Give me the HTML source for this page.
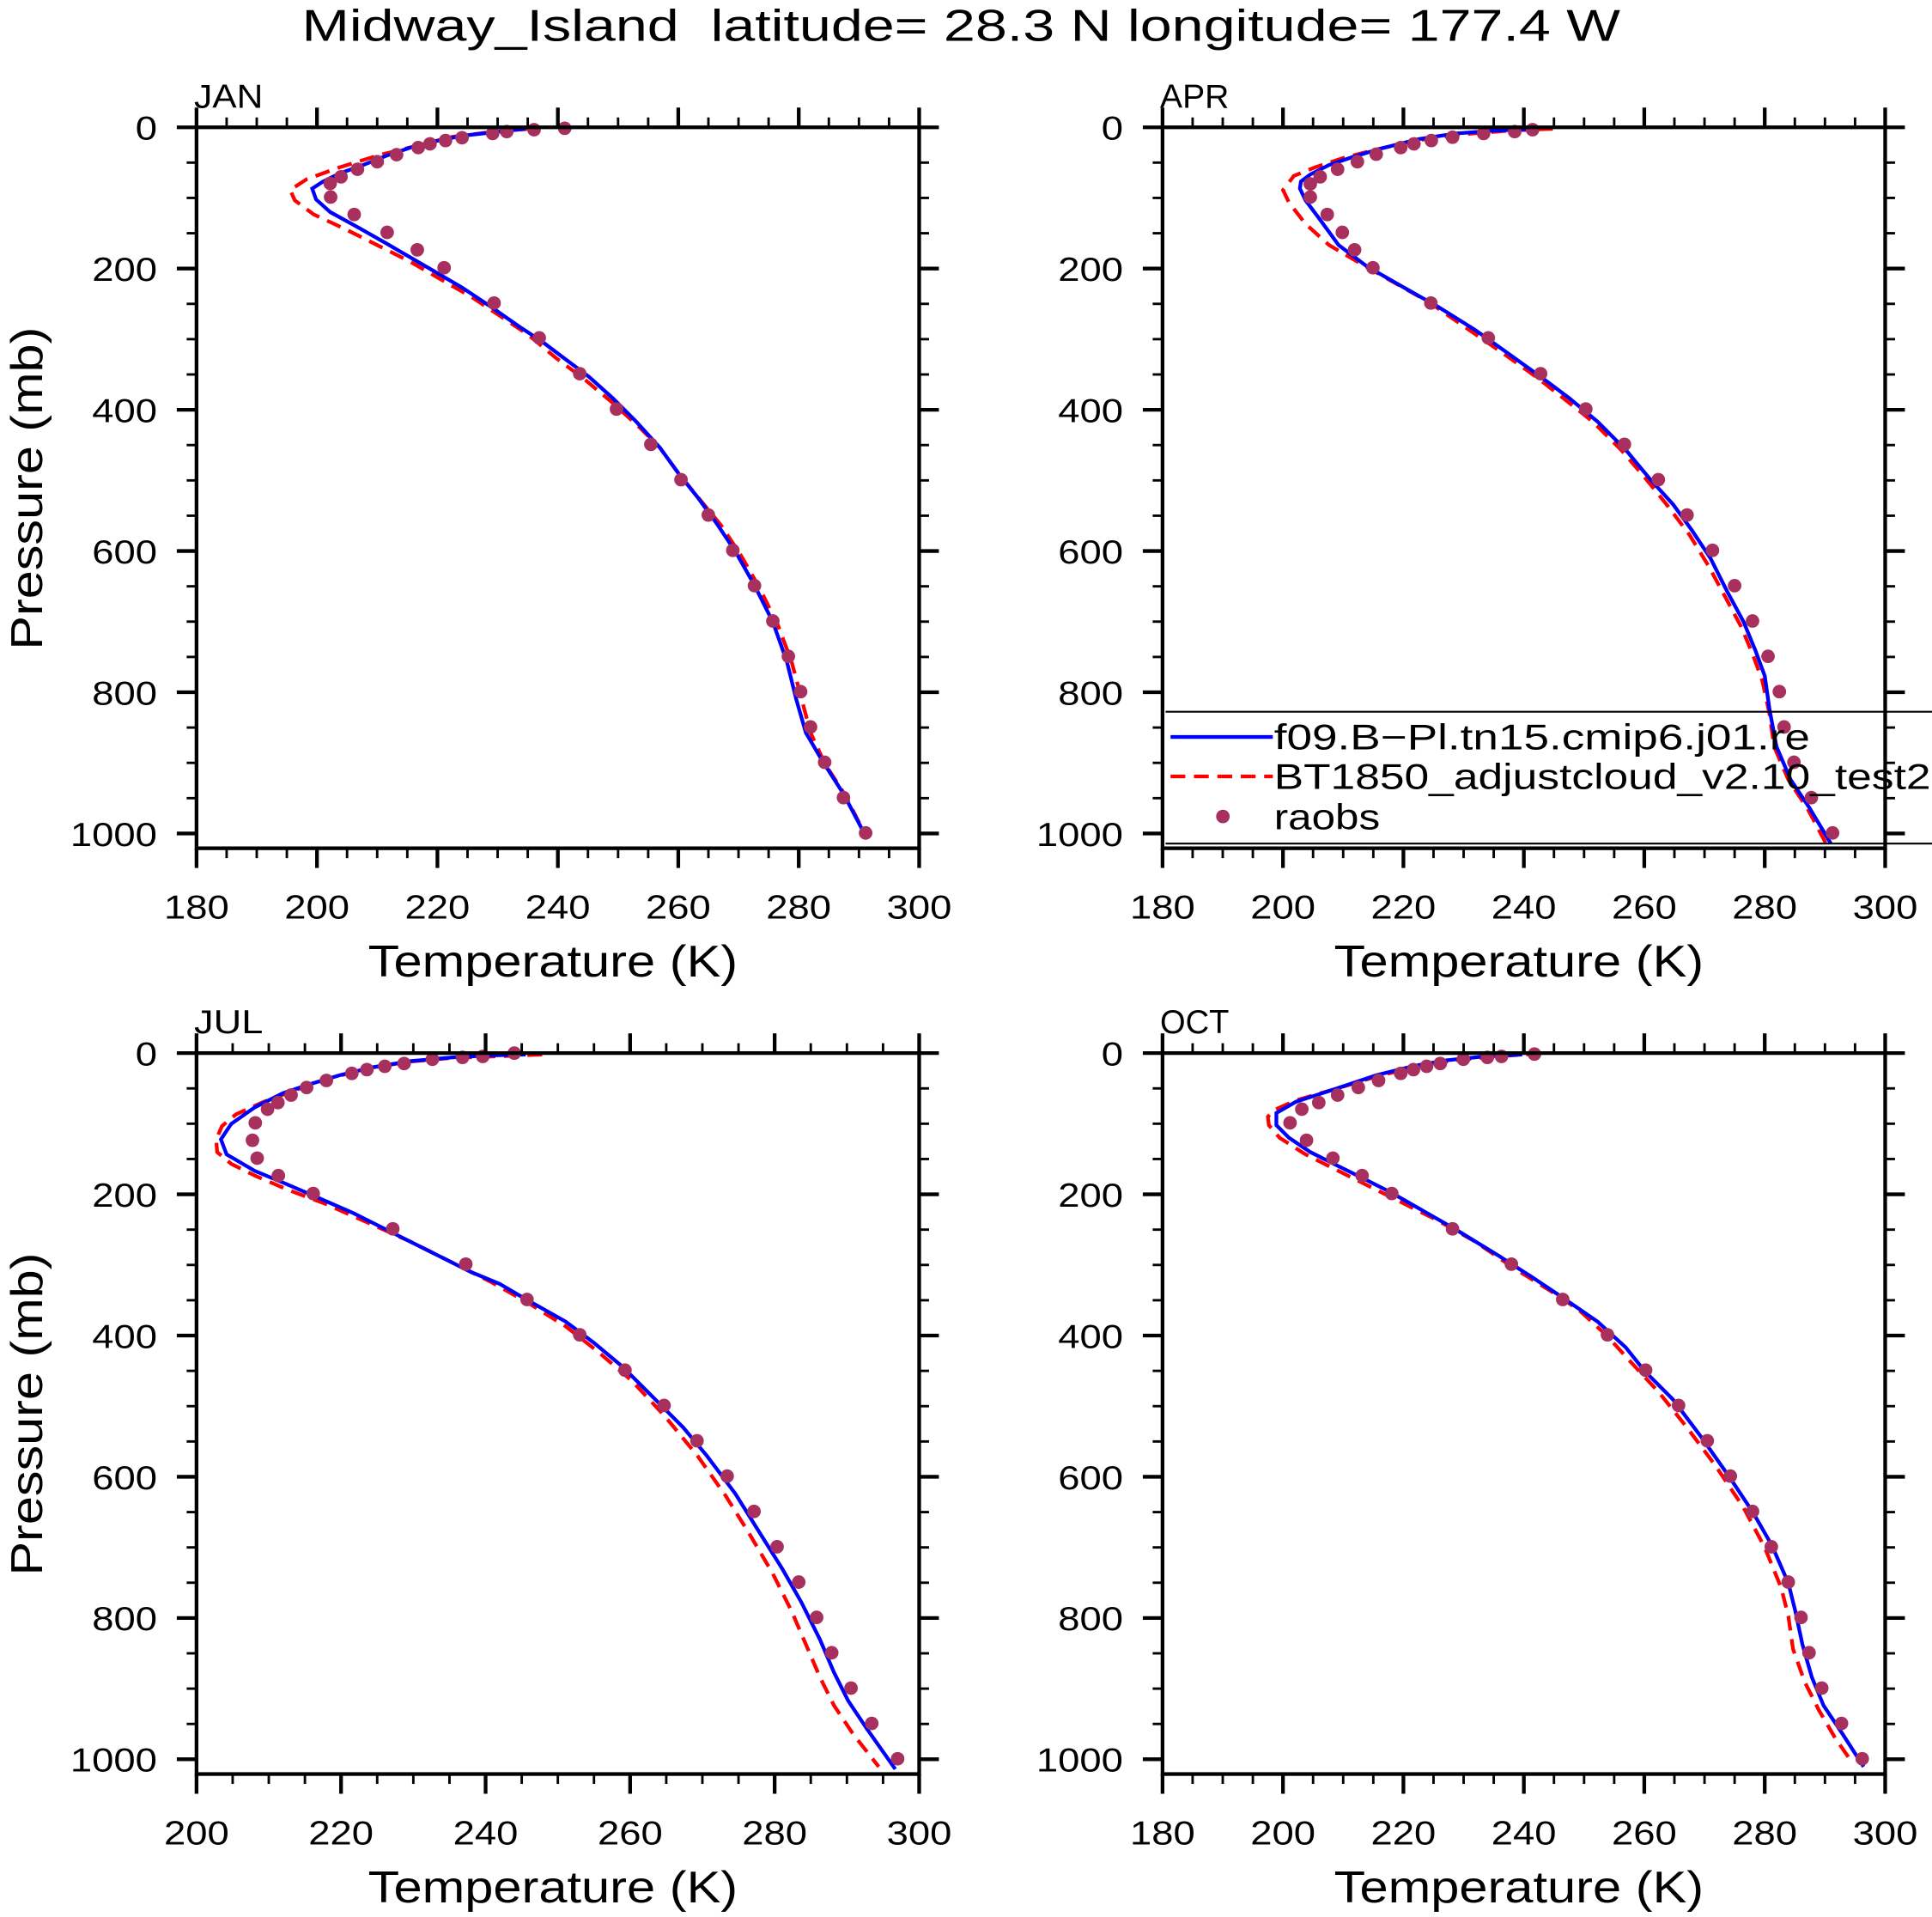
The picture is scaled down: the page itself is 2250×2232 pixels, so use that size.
<!DOCTYPE html>
<html><head><meta charset="utf-8"><style>
html,body{margin:0;padding:0;background:#fff;}
svg{display:block;}
text{font-family:"Liberation Sans",sans-serif;fill:#000;}
</style></head><body>
<svg id="s" width="2250" height="2232" viewBox="0 0 1568 1555.5" preserveAspectRatio="none" xmlns="http://www.w3.org/2000/svg">
<rect width="1568" height="1556" fill="#fff"/>
<text x="245" y="33" font-size="36" textLength="1070" lengthAdjust="spacingAndGlyphs" xml:space="preserve">Midway_Island  latitude= 28.3 N longitude= 177.4 W</text>
<g id="g"></g>
</svg>
<script>
const NS="http://www.w3.org/2000/svg";
const g=document.getElementById('g');
function el(t,a,txt){const e=document.createElementNS(NS,t);for(const k in a)e.setAttribute(k,a[k]);if(txt!==undefined)e.textContent=txt;g.appendChild(e);return e;}
const Z=2.6164;
const panels=[
 {name:"JAN",x0:159.5,x1:746,top:103.3,t0:180,ox:153.3,oy:97.6},
 {name:"APR",x0:943.5,x1:1530,top:103.3,t0:180,ox:937.3,oy:97.6},
 {name:"JUL",x0:159.5,x1:746,top:854.5,t0:200,ox:153.3,oy:848.8},
 {name:"OCT",x0:943.5,x1:1530,top:854.5,t0:180,ox:937.3,oy:848.8}];
const data={
JAN:{b:[[715,18],[650,25],[580,33],[520,45],[470,58],[420,75],[370,95],[320,113],[285,130],[262,145],[270,168],[300,195],[360,228],[420,262],[480,297],[520,320],[580,355],[640,395],[700,437],[750,470],[790,500],[850,545],[900,590],[950,640],[1000,695],[1040,750],[1080,800],[1120,855],[1160,915],[1200,985],[1240,1065],[1270,1150],[1290,1230],[1310,1300],[1345,1360],[1390,1430],[1440,1525]],
r:[[735,17],[650,24],[560,35],[480,55],[400,75],[320,100],[250,125],[215,148],[225,170],[265,200],[330,230],[400,265],[470,300],[530,335],[600,375],[660,415],[720,455],[780,505],[840,550],[900,600],[960,655],[1000,695],[1040,750],[1085,805],[1130,860],[1170,920],[1210,990],[1250,1070],[1280,1150],[1300,1225],[1320,1300],[1350,1365],[1395,1435],[1440,1525]],
d:[[798,17],[733,20],[675,24],[645,28],[580,37],[545,43],[512,50],[487,58],[441,73],[400,88],[358,104],[323,120],[300,134],[301,163],[351,200],[421,238],[485,275],[542,313],[648,388],[744,462],[830,538],[908,613],[981,688],[1045,763],[1103,838],[1155,913],[1201,988],[1240,1063],[1273,1138],[1299,1213],[1320,1288],[1350,1363],[1390,1438],[1437,1513]]},
APR:{b:[[815,18],[720,22],[640,28],[560,40],[480,60],[420,78],[370,95],[330,115],[310,130],[308,145],[320,170],[350,210],[390,265],[450,310],[520,350],[600,395],[680,445],[750,495],[820,545],[880,590],[940,640],[1000,700],[1050,760],[1100,815],[1140,870],[1180,930],[1215,1000],[1250,1065],[1275,1125],[1295,1180],[1305,1250],[1320,1330],[1350,1400],[1390,1460],[1435,1535]],
r:[[845,18],[750,22],[650,30],[560,42],[470,62],[400,80],[340,100],[295,118],[272,148],[285,175],[320,220],[370,265],[430,300],[500,340],[580,385],[660,440],[740,495],[810,545],[870,592],[930,640],[990,700],[1040,758],[1090,820],[1135,880],[1175,945],[1210,1010],[1245,1075],[1270,1135],[1290,1190],[1305,1260],[1315,1330],[1345,1400],[1385,1460],[1425,1535]],
d:[[802,20],[764,24],[698,28],[632,36],[587,43],[550,50],[522,58],[470,72],[430,88],[388,104],[351,120],[330,135],[330,163],[366,200],[398,238],[424,275],[463,313],[586,388],[708,462],[819,538],[915,613],[997,688],[1069,763],[1130,838],[1184,913],[1231,988],[1269,1063],[1302,1138],[1326,1213],[1336,1288],[1357,1363],[1394,1438],[1439,1513]]},
JUL:{b:[[715,18],[640,20],[560,24],[470,32],[390,45],[320,62],[260,80],[200,100],[140,130],[90,165],[68,198],[80,230],[140,265],[200,290],[270,320],[350,355],[430,395],[520,440],[600,480],[660,505],[720,540],[800,585],[860,630],[920,680],[980,740],[1050,810],[1100,870],[1160,950],[1210,1030],[1260,1110],[1300,1180],[1340,1260],[1370,1330],[1400,1390],[1440,1450],[1500,1535]],
r:[[750,18],[650,22],[560,25],[470,33],[380,47],[300,68],[230,92],[160,118],[100,145],[70,170],[58,198],[60,225],[90,250],[140,275],[210,305],[290,335],[380,375],[470,415],[560,460],[640,500],[720,545],[800,595],[870,650],[940,710],[1010,785],[1080,870],[1140,955],[1190,1035],[1240,1120],[1280,1200],[1310,1270],[1340,1340],[1370,1400],[1410,1460],[1465,1530]],
d:[[691,15],[624,22],[581,24],[517,28],[457,37],[416,43],[378,50],[346,58],[292,73],[250,88],[217,104],[189,120],[167,134],[141,163],[135,200],[145,238],[190,275],[264,313],[433,388],[588,463],[718,538],[830,613],[926,688],[1009,763],[1079,838],[1143,913],[1200,988],[1249,1063],[1295,1138],[1333,1213],[1365,1288],[1406,1363],[1450,1438],[1505,1513]]},
OCT:{b:[[780,18],[700,22],[620,30],[550,42],[470,62],[380,92],[300,118],[258,142],[258,168],[285,195],[330,225],[380,250],[440,280],[500,310],[570,350],[640,390],[730,445],[800,490],[860,530],[940,585],[1000,640],[1040,690],[1100,750],[1160,830],[1220,915],[1270,990],[1310,1060],[1345,1140],[1360,1200],[1375,1270],[1395,1340],[1420,1400],[1460,1460],[1505,1530]],
r:[[820,16],[720,22],[640,30],[560,42],[470,65],[380,92],[300,115],[255,135],[240,150],[242,168],[265,195],[320,230],[380,260],[450,295],[520,330],[600,370],[680,415],[760,470],[840,520],[900,560],[960,615],[1010,670],[1070,735],[1130,810],[1190,890],[1250,980],[1295,1065],[1330,1150],[1345,1210],[1355,1280],[1380,1350],[1410,1410],[1445,1470],[1480,1520]],
d:[[806,17],[736,22],[706,24],[655,28],[606,37],[577,43],[549,50],[522,58],[475,73],[432,88],[388,104],[348,120],[312,134],[287,163],[322,200],[378,238],[440,275],[503,313],[632,388],[757,463],[866,538],[961,613],[1042,688],[1112,763],[1173,838],[1222,913],[1269,988],[1309,1063],[1345,1138],[1372,1213],[1389,1288],[1416,1363],[1458,1438],[1502,1513]]}
};
function T(a,p){return a.map(q=>[p.ox+q[0]/Z,p.oy+q[1]/Z]);}
function pts(a){return a.map(q=>q[0].toFixed(1)+","+q[1].toFixed(1)).join(" ");}
function lbl(x,y,s,anchor){
  const w=s.length*17.6;
  let lx=x; if(anchor==='end')lx=x-w; else if(anchor==='middle')lx=x-w/2;
  el('text',{x:lx,y:y,'font-size':27,textLength:w,lengthAdjust:'spacingAndGlyphs'},s);
}
for(const p of panels){
  const H=573, bot=p.top+585;
  const span=300-p.t0, sx=(p.x1-p.x0)/span;
  const d=data[p.name];
  el('polyline',{points:pts(T(d.r,p)),fill:'none',stroke:'#ff0000','stroke-width':3,'stroke-dasharray':'12,7'});
  el('polyline',{points:pts(T(d.b,p)),fill:'none',stroke:'#0000ff','stroke-width':3});
  for(const q of T(d.d,p)) el('circle',{cx:q[0],cy:q[1],r:5.5,fill:'#a8305e'});
  el('rect',{x:p.x0,y:p.top,width:p.x1-p.x0,height:bot-p.top,fill:'none',stroke:'#000','stroke-width':3});
  for(let t=p.t0;t<=300;t+=5){
    const x=p.x0+(t-p.t0)*sx, maj=(t%20==0), L=maj?16:8;
    el('line',{x1:x,y1:p.top,x2:x,y2:p.top-L,stroke:'#000','stroke-width':maj?3:2});
    el('line',{x1:x,y1:bot,x2:x,y2:bot+L,stroke:'#000','stroke-width':maj?3:2});
    if(maj) lbl(x,bot+57,String(t),'middle');
  }
  for(let pr=0;pr<=1000;pr+=50){
    const y=p.top+pr*H/1000, maj=(pr%200==0), L=maj?16:8;
    el('line',{x1:p.x0,y1:y,x2:p.x0-L,y2:y,stroke:'#000','stroke-width':maj?3:2});
    el('line',{x1:p.x1,y1:y,x2:p.x1+L,y2:y,stroke:'#000','stroke-width':maj?3:2});
    if(maj) lbl(p.x0-32,y+10,String(pr),'end');
  }
  el('text',{x:p.x0-2,y:p.top-16,'font-size':27,textLength:56,lengthAdjust:'spacingAndGlyphs'},p.name);
  const cx=(p.x0+p.x1)/2-4;
  el('text',{x:cx-150,y:bot+104,'font-size':36,textLength:300,lengthAdjust:'spacingAndGlyphs'},"Temperature (K)");
  if(p.x0<500){const cy=p.top+293;el('text',{x:-131,y:0,'font-size':36,textLength:262,lengthAdjust:'spacingAndGlyphs',transform:`translate(34,${cy}) rotate(-90)`},"Pressure (mb)");}
}
// legend
el('line',{x1:946,y1:577.5,x2:1568,y2:577.5,stroke:'#000','stroke-width':1.5});
el('line',{x1:946,y1:684.5,x2:1568,y2:684.5,stroke:'#000','stroke-width':1.5});
el('line',{x1:950,y1:598,x2:1033,y2:598,stroke:'#0000ff','stroke-width':3});
el('line',{x1:950,y1:630,x2:1033,y2:630,stroke:'#ff0000','stroke-width':3,'stroke-dasharray':'12,7'});
el('circle',{cx:992.5,cy:662.5,r:5.5,fill:'#a8305e'});
el('text',{x:1034,y:608,'font-size':29,textLength:435,lengthAdjust:'spacingAndGlyphs'},"f09.B\u2212Pl.tn15.cmip6.j01.re");
el('text',{x:1034,y:640,'font-size':29,textLength:533,lengthAdjust:'spacingAndGlyphs'},"BT1850_adjustcloud_v2.10_test2");
el('text',{x:1034,y:673,'font-size':29,textLength:86,lengthAdjust:'spacingAndGlyphs'},"raobs");
</script>
</body></html>
